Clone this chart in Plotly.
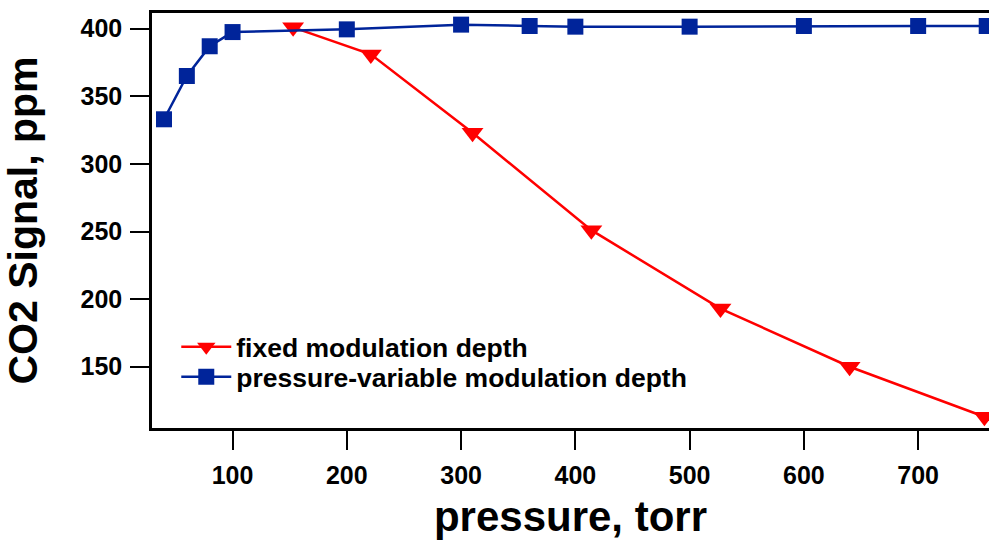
import plotly.graph_objects as go

# Data
fixed_x = [153, 221, 310, 414, 527, 640, 758]
fixed_y = [401, 381, 323, 251, 193, 150, 113]

var_x = [40, 60, 80, 100, 200, 300, 360, 400, 500, 600, 700, 760]
var_y = [333, 365, 387, 397.5, 399.5, 403, 402, 401.5, 401.5, 402, 402, 402]

x_ticks = [100, 200, 300, 400, 500, 600, 700]
y_ticks = [150, 200, 250, 300, 350, 400]

FONT = "Liberation Sans, Arial, sans-serif"

fig = go.Figure()
fig.add_trace(go.Scatter(
    x=fixed_x, y=fixed_y, mode="lines+markers",
    name="<b>fixed modulation depth</b>",
    line=dict(color="#FF0000", width=2.5),
    marker=dict(symbol="triangle-down", size=19, color="#FF0000"),
    cliponaxis=False, legend="legend",
))
fig.add_trace(go.Scatter(
    x=var_x, y=var_y, mode="lines+markers",
    name="<b>pressure-variable modulation depth</b>",
    line=dict(color="#00249A", width=2.5),
    marker=dict(symbol="square", size=16, color="#00249A"),
    cliponaxis=False, legend="legend2",
))

leg_common = dict(
    xanchor="left", yanchor="middle",
    bgcolor="rgba(0,0,0,0)", borderwidth=0,
    font=dict(size=26.5, family=FONT, color="black"),
    itemwidth=50,
)

fig.update_layout(
    width=989, height=540,
    margin=dict(l=152, r=0, t=13, b=112),
    paper_bgcolor="white", plot_bgcolor="white",
    font=dict(family=FONT, color="black", size=25),
    showlegend=True,
    legend=dict(x=0.029, y=0.195, **leg_common),
    legend2=dict(x=0.029, y=0.123, **leg_common),
    xaxis=dict(
        range=[29.5, 762], tickvals=x_ticks,
        ticktext=[f"<b>{v}</b>" for v in x_ticks],
        showgrid=False, zeroline=False,
        showline=True, linecolor="black", linewidth=2.5, mirror=True,
        ticks="outside", ticklen=19, tickwidth=2, tickcolor="black",
        tickfont=dict(size=25, family=FONT),
        ticklabelstandoff=4,
        title=dict(text="<b>pressure, torr</b>", font=dict(size=42, family=FONT), standoff=19),
        automargin=False,
    ),
    yaxis=dict(
        range=[104.7, 411.6], tickvals=y_ticks,
        ticktext=[f"<b>{v}</b>" for v in y_ticks],
        showgrid=False, zeroline=False,
        showline=True, linecolor="black", linewidth=2.5,
        ticks="outside", ticklen=19, tickwidth=2, tickcolor="black",
        tickfont=dict(size=25, family=FONT),
        ticklabelstandoff=3,
        title=dict(text="<b>CO2 Signal, ppm</b>", font=dict(size=41, family=FONT), standoff=36),
        automargin=False,
    ),
)

fig.write_html("out.html", config={"displayModeBar": False},
               post_script="document.body.style.margin='0';")
